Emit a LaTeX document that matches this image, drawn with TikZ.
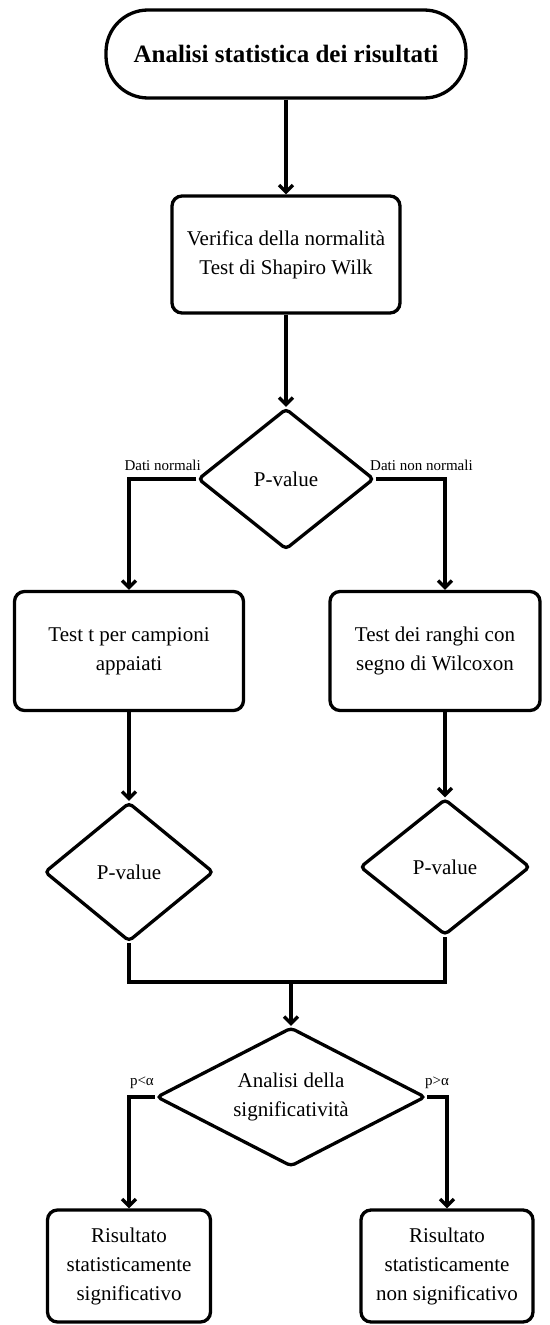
\documentclass[tikz,border=0pt]{standalone}
\usepackage{fontspec}
\setmainfont{Liberation Serif}
\usetikzlibrary{arrows.meta,shapes.geometric,calc}

\begin{document}
\begin{tikzpicture}[x=1pt,y=-1pt]
\tikzset{
     every node/.style={font=\fontsize{21}{29}\selectfont},
     terminal/.style={draw, line width=3.3pt, rounded corners=42pt, minimum width=360pt, minimum height=88pt, font=\fontsize{25}{30}\selectfont\bfseries},
     process/.style={draw, line width=3.3pt, rounded corners=10pt, align=center, inner sep=0pt},
     decision/.style={draw, diamond, line width=3.3pt, rounded corners=4pt, align=center, inner sep=0pt},
     flow/.style={line width=3.3pt, -{Straight Barb[length=7pt,width=14pt]}},
     mergeline/.style={line width=3.3pt},
     branch/.style={font=\fontsize{15}{18}\selectfont, inner sep=1pt}}

\useasboundingbox (0,0) rectangle (549,1325);

% The start and the normality test
\node (start) [terminal] at (286,54) {Analisi statistica dei risultati};
\node (verify) [process, minimum width=228pt, minimum height=117pt] at (286,254.5) {Verifica della normalità\\Test di Shapiro Wilk};
\node (pval) [decision, minimum width=176pt, minimum height=141pt, aspect=1.25] at (286,479) {P-value};

% The two tests
\node (ttest) [process, minimum width=229pt, minimum height=119pt] at (129,651) {Test t per campioni\\appaiati};
\node (wilcox) [process, minimum width=210pt, minimum height=119pt] at (435,651) {Test dei ranghi con\\segno di Wilcoxon};
\node (pvleft) [decision, minimum width=169pt, minimum height=139pt] at (129,872) {P-value};
\node (pvright) [decision, minimum width=170pt, minimum height=136pt] at (445,867) {P-value};

% The significance and the results
\coordinate (merge) at (291,982);
\node (signif) [decision, minimum width=269pt, minimum height=139pt, aspect=1.94] at (291,1097) {Analisi della\\significatività};
\node (yes) [process, minimum width=163pt, minimum height=112pt] at (129,1266) {Risultato\\statisticamente\\significativo};
\node (no) [process, minimum width=172pt, minimum height=112pt] at (447,1266) {Risultato\\statisticamente\\non significativo};

% The arrows
\draw [flow] (start) -- (verify);
\draw [flow] (verify) -- (pval);
\draw [flow] (pval.west) -| node[branch, pos=0.25, above=6pt] {Dati normali} (ttest.north);
\draw [flow] (pval.east) -| node[branch, pos=0.33, above=6pt] {Dati non normali} (pvright.north |- wilcox.north);
\draw [flow] (ttest.south) -- (pvleft.north);
\draw [flow] (wilcox.south -| pvright.north) -- (pvright.north);
\draw [mergeline] (pvleft.south) |- (merge) -| (pvright.south);
\draw [flow] (merge) -- (signif.north);
\draw [flow] (signif.west) -| node[branch, pos=0.25, above=6pt] {p<α} (yes.north);
\draw [flow] (signif.east) -| node[branch, pos=0.25, above=6pt] {p>α} (no.north);
\end{tikzpicture}
\end{document}
